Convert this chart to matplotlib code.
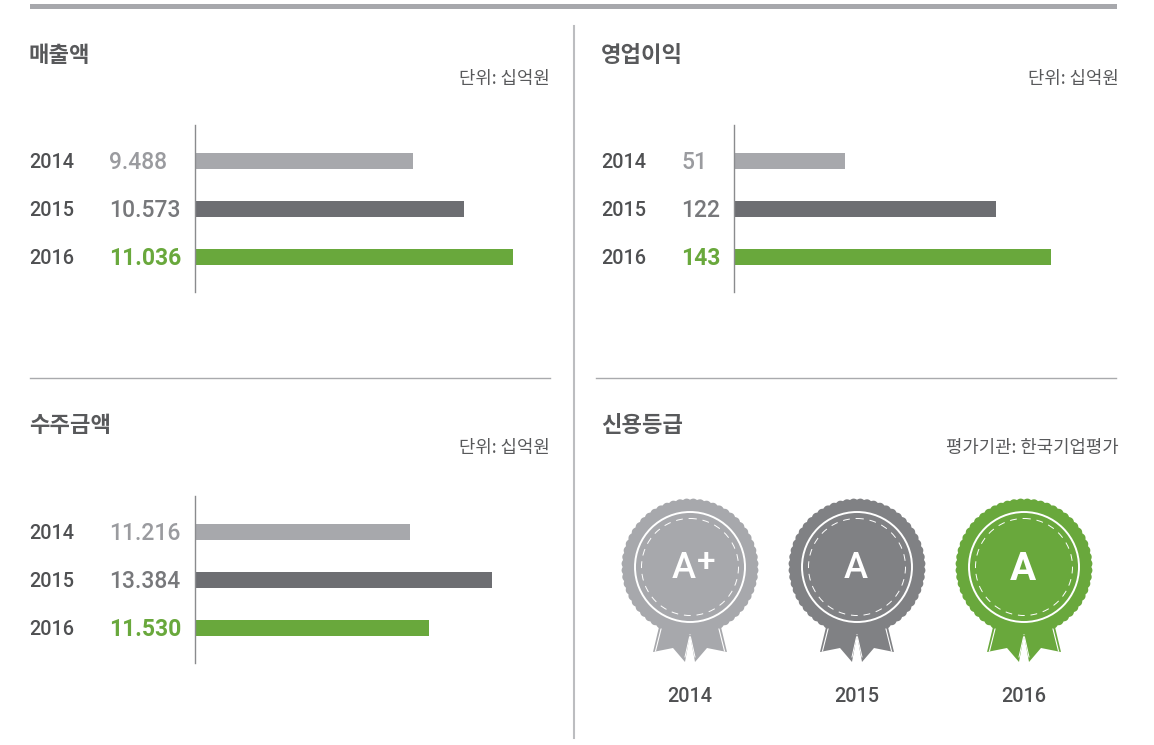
import numpy as np
import matplotlib
matplotlib.use('Agg')
import matplotlib.pyplot as plt
from matplotlib.transforms import blended_transform_factory
from matplotlib.patches import Polygon, Circle

plt.rcParams['font.family'] = ['Noto Sans CJK KR', 'DejaVu Sans']

W, H = 1154, 745
GREY = '#a7a8ac'
DARK = '#6d6e72'
GREEN = '#69a83c'
TXT = '#58595b'
YEAR_TXT = '#4f5052'

years = ['2014', '2015', '2016']
sales_lbl = ['9.488', '10.573', '11.036']
profit_lbl = ['51', '122', '143']
orders_lbl = ['11.216', '13.384', '11.530']
# bar lengths as measured, the source bars do not follow one scale
sales_len = [218, 269, 318]
profit_len = [111, 262, 317]
orders_len = [215, 297, 234]
bar_cols = [GREY, DARK, GREEN]
val_cols = ['#9a9b9f', '#77787b', GREEN]
grades = ['A+', 'A', 'A']
badge_cols = ['#a7a8ac', '#808184', '#69a83c']

fig = plt.figure(figsize=(W / 100, H / 100), dpi=100)
bg = fig.add_axes([0, 0, 1, 1])
bg.set_xlim(0, W)
bg.set_ylim(H, 0)
bg.axis('off')

# frame lines
bg.fill_between([30, 1117], 4, 9, color=GREY, lw=0)
bg.plot([574, 574], [26, 738], color='#bcbdc0', lw=1.5)
bg.plot([30, 550], [378, 378], color='#a9aaad', lw=1)
bg.plot([596, 1116], [378, 378], color='#a9aaad', lw=1)


def head(x, y, title, ux, uy, unit):
    bg.text(x - 1, y + 1, title, fontsize=16, fontweight='bold', color=TXT, va='center', ha='left')
    bg.text(ux, uy + 1, unit, fontsize=12.8, color=TXT, va='center', ha='right')


def panel(x0, top, bottom, xy, xv, labels, lens, width=340):
    ax = fig.add_axes([x0 / W, 1 - bottom / H, width / W, (bottom - top) / H])
    ax.patch.set_alpha(0)
    first = top + 36
    step = 48
    ax.set_ylim((bottom - first) / step, (top - first) / step)
    ax.set_xlim(0, width)
    ax.barh(range(3), lens, height=16 / step, color=bar_cols)
    for s in ['top', 'right', 'bottom']:
        ax.spines[s].set_visible(False)
    ax.spines['left'].set_color('#8a8b8e')
    ax.spines['left'].set_linewidth(1)
    ax.set_xticks([])
    ax.set_yticks([])
    tr = blended_transform_factory(bg.transData, ax.transData)
    for i in range(3):
        ax.annotate(years[i], (xy, i), xycoords=tr, xytext=(-0.4, -1), textcoords='offset points',
                    family='Roboto', fontsize=14.3, fontweight='medium', color=YEAR_TXT,
                    va='center', ha='left', annotation_clip=False)
        ax.annotate(labels[i], (xv, i), xycoords=tr, xytext=(-0.6, -1), textcoords='offset points',
                    family='Roboto', fontsize=16.5, fontweight='bold' if i == 2 else 'medium',
                    color=val_cols[i], va='center', ha='left', annotation_clip=False)


def badge(cx, cy, col, grade, year, heavy):
    # ribbon tails
    tail = np.array([[-31, 60], [-37, 85], [-17, 81], [-5, 95], [0, 68]])
    for sgn in [1, -1]:
        pts = tail * [sgn, 1] + [cx, cy]
        bg.add_patch(Polygon(pts, closed=True, fc=col, ec='none', zorder=2))
        bg.plot([cx - sgn * 28.5, cx - sgn * 34.5], [cy + 60, cy + 84], color='white', lw=0.8, zorder=3)
        bg.plot([cx - sgn * 0.5, cx - sgn * 5], [cy + 70, cy + 90], color='white', lw=0.7, zorder=3)
    # scalloped rim
    t = np.linspace(0, 2 * np.pi, 1441)
    r = 67.3 + 1.2 * np.abs(np.sin(t * 30))
    bg.add_patch(Polygon(np.c_[cx + r * np.cos(t), cy + r * np.sin(t)], closed=True, fc=col, ec='none', zorder=4))
    bg.add_patch(Circle((cx, cy), 55, fc='none', ec='white', lw=1.4, zorder=5))
    bg.add_patch(Circle((cx, cy), 48.5, fc='none', ec='white', lw=0.7, ls=(0, (7, 6)), zorder=5))
    weight = 'bold' if heavy else 'medium'
    size = 28 if heavy else 26
    if grade.endswith('+'):
        bg.text(cx - 6, cy + 2, grade[0], family='Roboto', fontsize=size, fontweight=weight, color='white',
                ha='center', va='center', zorder=6)
        bg.text(cx + 16, cy - 5, '+', family='Roboto', fontsize=24, fontweight=weight, color='white',
                ha='center', va='center', zorder=6)
    else:
        bg.text(cx - 1, cy + 2, grade, family='Roboto', fontsize=size, fontweight=weight, color='white',
                ha='center', va='center', zorder=6)
    bg.text(cx, 696, year, family='Roboto', fontsize=14.3, fontweight='medium', color=YEAR_TXT,
            ha='center', va='center')


head(30, 55, '매출액', 550, 78, '단위: 십억원')
head(602, 55, '영업이익', 1119, 78, '단위: 십억원')
head(30, 424, '수주금액', 550, 447, '단위: 십억원')
head(602, 424, '신용등급', 1119, 447, '평가기관: 한국기업평가')

panel(195, 125, 292, 30, 110, sales_lbl, sales_len)
panel(734, 125, 292, 602, 682, profit_lbl, profit_len)
panel(195, 496, 663, 30, 110, orders_lbl, orders_len)

for i, (cx, col, g, y) in enumerate(zip([690, 857, 1024], badge_cols, grades, years)):
    badge(cx, 567, col, g, y, i == 2)

fig.savefig('out.png', dpi=100)
